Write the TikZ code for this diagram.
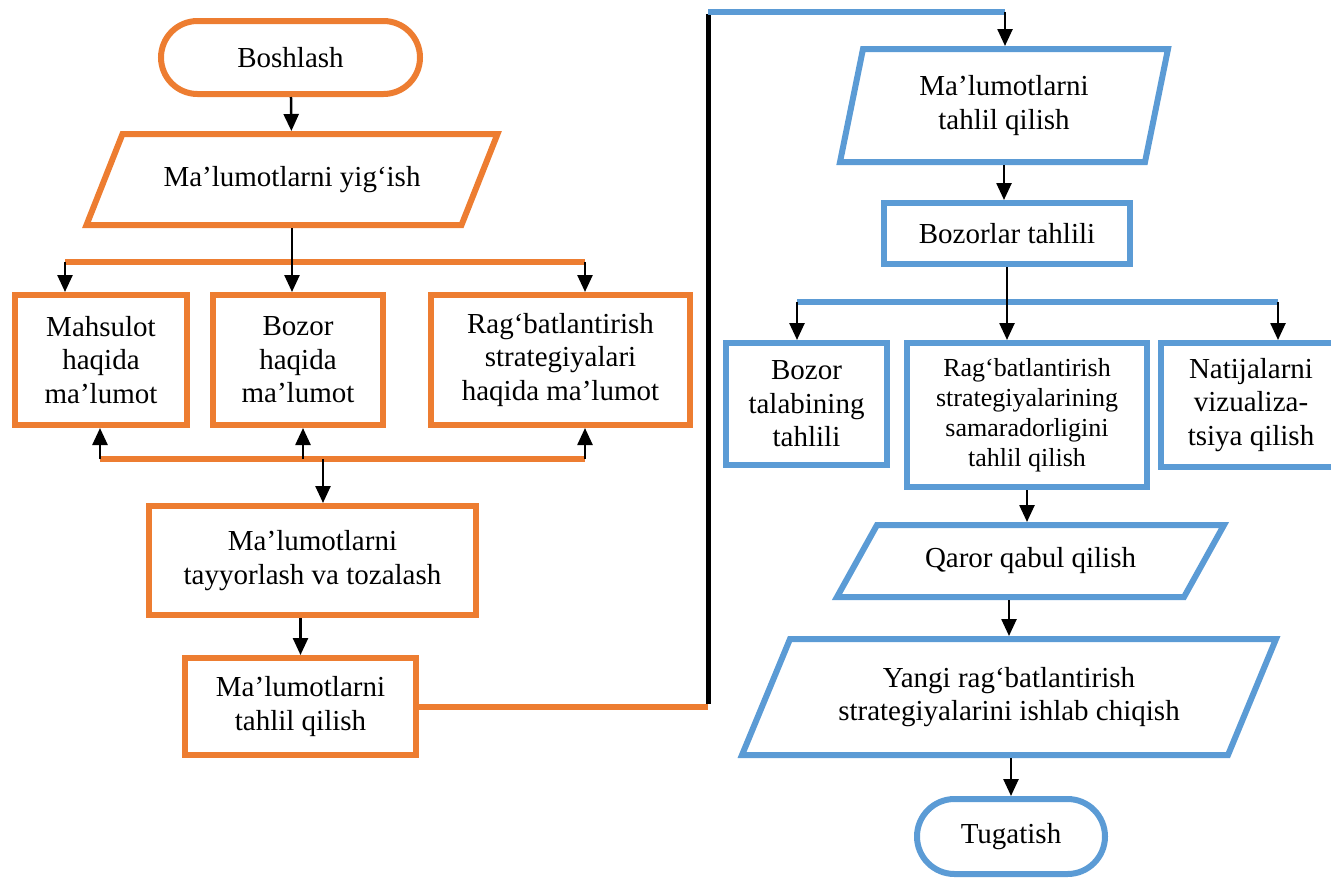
\documentclass[tikz,border=0pt]{standalone}
\usepackage{fontspec}
\setmainfont{Liberation Serif}
\usetikzlibrary{positioning, calc, arrows.meta}
\definecolor{orng}{HTML}{ED7D31}
\definecolor{blu}{HTML}{5B9BD5}
% parallelogramm: tugun nomi, yarim qiyalik, rang
\newcommand\paral[3]{\draw[line width=6pt, #3]
  ($(#1.south west)+(-#2,-3)$) -- ($(#1.south east)+(-#2,-3)$) --
  ($(#1.north east)+(#2,3)$) -- ($(#1.north west)+(#2,3)$) -- cycle;}

\begin{document}
\begin{tikzpicture}[x=1pt, y=-1pt,
font=\fontsize{29}{33.5}\selectfont,
box/.style={rectangle, draw, line width=6pt, align=center, inner sep=0pt},
obox/.style={box, draw=orng},
bbox/.style={box, draw=blu},
para/.style={rectangle, align=center, inner sep=0pt, outer sep=3pt},
arr/.style={-{Triangle[length=17pt,width=15pt]}, line width=2.5pt, black},
bus/.style={line width=6pt}]
\clip (0,0) rectangle (1331,879);

% chap ustun
\node[obox, rounded corners=36.5pt, minimum width=259pt, minimum height=73pt] (start) at (290.5,57.5) {Boshlash};
\node[para, minimum width=369pt, minimum height=91pt] (yigish) at (292,179.5) {Ma’lumotlarni yig‘ish};
\node[obox, minimum width=172pt, minimum height=130pt] (mahsulot) at (101,360) {Mahsulot\\haqida\\ma’lumot};
\node[obox, minimum width=170pt, minimum height=130pt] (bozor) at (298,360) {Bozor\\haqida\\ma’lumot};
\node[obox, minimum width=259pt, minimum height=130pt] (strat) at (560.5,360) {Rag‘batlantirish\\strategiyalari\\haqida ma’lumot};
\node[obox, minimum width=327pt, minimum height=109pt] (tayyor) at (312.5,560.5) {Ma’lumotlarni\\tayyorlash va tozalash};
\node[obox, minimum width=231pt, minimum height=97pt] (tahlilA) at (300.5,706.5) {Ma’lumotlarni\\tahlil qilish};

% o'ng ustun
\node[para, minimum width=299pt, minimum height=113pt] (tahlilB) at (1004,105.5) {Ma’lumotlarni\\tahlil qilish};
\node[bbox, minimum width=246pt, minimum height=61pt] (bozorlar) at (1007,233.5) {Bozorlar tahlili};
\node[bbox, minimum width=161pt, minimum height=122pt] (talab) at (806.5,404) {Bozor\\talabining\\tahlili};
\node[bbox, minimum width=240pt, minimum height=144pt, font=\fontsize{26}{30}\selectfont] (samara) at (1027,415) {Rag‘batlantirish\\strategiyalarining\\samaradorligini\\tahlil qilish};
\node[bbox, minimum width=181pt, minimum height=124pt] (natija) at (1251,405) {Natijalarni\\vizualiza-\\tsiya qilish};
\node[para, minimum width=341pt, minimum height=72pt] (qaror) at (1030.5,561) {Qaror qabul qilish};
\node[para, minimum width=480pt, minimum height=116pt] (yangi) at (1009,697) {Yangi rag‘batlantirish\\strategiyalarini ishlab chiqish};
\node[bbox, rounded corners=37.5pt, minimum width=188pt, minimum height=75pt] (tugatish) at (1011,836.5) {Tugatish};

\paral{yigish}{18}{orng}
\paral{tahlilB}{11.5}{blu}
\paral{qaror}{20}{blu}
\paral{yangi}{24}{blu}

% tarmoq nuqtalari
\coordinate (s1) at (65,262);
\coordinate (s2) at (585,262);
\coordinate (g1) at (100,459);
\coordinate (g2) at (303,459);
\coordinate (g3) at (585,459);
\coordinate (g4) at (323,459);
\coordinate (k2) at (708,12);
\coordinate (k1) at (tahlilA.east -| k2);
\coordinate (k3) at (1005,12);
\coordinate (t1) at (797,302);
\coordinate (t2) at (1278,302);

\draw[bus, orng] (s1) -- (s2);
\draw[bus, orng] (g1) -- (g3);
\draw[bus, blu] (t1) -- (t2);

\draw[arr] (start) -- (yigish);
\draw[arr] (yigish.south) -- (yigish.south |- bozor.north);
\draw[arr] (s1) -- (s1 |- mahsulot.north);
\draw[arr] (s2) -- (s2 |- strat.north);
\draw[arr] (g1) -- (g1 |- mahsulot.south);
\draw[arr] (g2) -- (g2 |- bozor.south);
\draw[arr] (g3) -- (g3 |- strat.south);
\draw[arr] (g4) -- (g4 |- tayyor.north);
\draw[arr] (tayyor.south -| tahlilA) -- (tahlilA.north);

\draw[bus, orng] (tahlilA.east) -- (k1);
\draw[line width=5pt] ([yshift=2.5pt]k1) -- ([yshift=-2pt]k2);
\draw[bus, blu] (k2) -- (k3);
\draw[arr] (k3) -- (k3 |- tahlilB.north);

\draw[arr] (tahlilB.south) -- (tahlilB.south |- bozorlar.north);
\draw[arr] (bozorlar.south) -- (bozorlar.south |- samara.north);
\draw[arr] (t1) -- (t1 |- talab.north);
\draw[arr] (t2) -- (t2 |- natija.north);
\draw[arr] (samara.south) -- (samara.south |- qaror.north);
\draw[arr] (qaror.south -| yangi.north) -- (yangi.north);
\draw[arr] (yangi.south -| tugatish) -- (tugatish.north);
\end{tikzpicture}
\end{document}
